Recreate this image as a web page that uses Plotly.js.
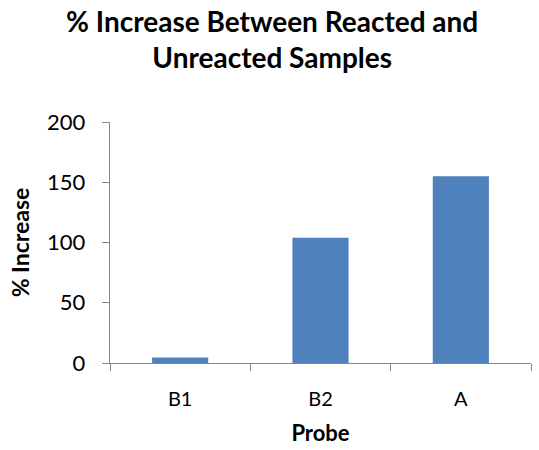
<!DOCTYPE html>
<html>
<head>
<meta charset="utf-8">
<script src="https://cdn.plot.ly/plotly-3.0.1.min.js"></script>
<style>html,body{margin:0;padding:0;background:#fff;}#chart{width:539px;height:450px;}</style>
</head>
<body>
<div id="chart"></div>
<script>
const categories = ["B1", "B2", "A"];
const increase = [4.6, 104, 155];
const yTicks = [0, 50, 100, 150, 200];

const font = "Lato, 'Open Sans', sans-serif";
const axisColor = "#868686";

Plotly.newPlot("chart", [{
  type: "bar",
  x: categories,
  y: increase,
  marker: {color: "#4F81BD"},
  hoverinfo: "skip"
}], {
  width: 539,
  height: 450,
  margin: {l: 110, r: 8, t: 122, b: 87},
  paper_bgcolor: "#fff",
  plot_bgcolor: "#fff",
  bargap: 0.6,
  showlegend: false,
  title: {
    text: "<b>% Increase Between Reacted and<br>Unreacted Samples</b>",
    font: {family: font, size: 28, color: "#000"},
    x: 0.505, xanchor: "center", y: 0.93, yanchor: "top"
  },
  xaxis: {
    type: "category",
    showline: true, linecolor: axisColor, linewidth: 1.3,
    ticks: "outside", tickson: "boundaries", ticklen: 7, tickcolor: axisColor,
    tickfont: {family: font, size: 20, color: "#000"},
    ticklabelstandoff: 18,
    showgrid: false, zeroline: false,
    title: {text: "<b>Probe</b>", font: {family: font, size: 22, color: "#000"}, standoff: 16}
  },
  yaxis: {
    range: [0, 200],
    tickvals: yTicks,
    showline: true, linecolor: axisColor, linewidth: 1.3,
    ticks: "outside", ticklen: 7, tickcolor: axisColor,
    tickfont: {family: font, size: 22, color: "#000"},
    ticklabelstandoff: 12,
    showgrid: false, zeroline: false,
    title: {text: "<b>% Increase</b>", font: {family: font, size: 23, color: "#000"}, standoff: 11}
  }
}, {staticPlot: true});
</script>
</body>
</html>
